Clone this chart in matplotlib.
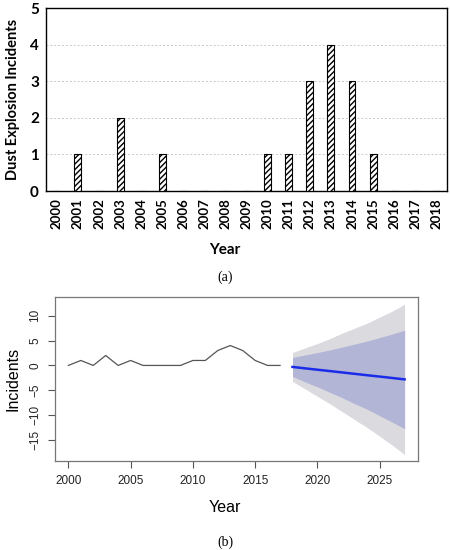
import numpy as np
import matplotlib
matplotlib.use('Agg')
import matplotlib.pyplot as plt

# (a) 연도별 분진폭발 사고 건수
years = list(range(2000, 2019))
incidents = [0, 1, 0, 2, 0, 1, 0, 0, 0, 0, 1, 1, 3, 4, 3, 1, 0, 0, 0]

# (b) 관측 시계열 + 예측
hist_years = list(range(2000, 2018))
hist_vals = [0, 1, 0, 2, 0, 1, 0, 0, 0, 0, 1, 1, 3, 4, 3, 1, 0, 0]
fc_years = list(range(2018, 2028))
fc_mean = [-0.30, -0.58, -0.86, -1.13, -1.41, -1.69, -1.97, -2.24, -2.52, -2.80]
fc_hi80 = [1.6, 2.1, 2.6, 3.1, 3.7, 4.3, 4.9, 5.6, 6.3, 7.1]
fc_lo80 = [-2.2, -3.3, -4.3, -5.4, -6.5, -7.7, -8.8, -10.1, -11.4, -12.7]
fc_hi95 = [2.6, 3.5, 4.4, 5.4, 6.5, 7.5, 8.5, 9.7, 10.9, 12.3]
fc_lo95 = [-3.2, -4.7, -6.2, -7.7, -9.3, -10.9, -12.5, -14.2, -16.0, -17.9]

fig = plt.figure(figsize=(4.5, 5.5), dpi=100)

# ---- (a) 막대그래프 ----
ax1 = fig.add_axes([0.102, 0.6527, 0.892, 0.3327])
x = np.arange(len(years))
ax1.bar(x, incidents, width=0.33, color='white', edgecolor='black',
        hatch='//////', linewidth=0.8, zorder=3)
ax1.set_xlim(-0.52, len(years) - 0.48)
ax1.set_ylim(0, 5)
ax1.set_yticks(range(6))
ax1.set_xticks(x)
ax1.set_xticklabels([str(y) for y in years], rotation=90,
                    fontweight='bold', fontsize=9.5, family='Lato')
for lab in ax1.get_yticklabels():
    lab.set_fontweight('bold')
    lab.set_family('Lato')
    lab.set_fontsize(11)
ax1.tick_params(length=0, pad=5)
ax1.grid(axis='y', linestyle=(0, (2, 2)), color='#c8c8c8', linewidth=0.7, zorder=0)
for s in ax1.spines.values():
    s.set_linewidth(1.0)
ax1.set_ylabel('Dust Explosion Incidents', fontweight='bold', fontsize=10.5,
               family='Lato', labelpad=7)
fig.text(0.5, 1 - 250 / 550, 'Year', ha='center', va='center',
         fontweight='bold', fontsize=11, family='Lato')
fig.text(0.5, 1 - 277 / 550, '(a)', ha='center', va='center',
         fontsize=10, family='Liberation Serif')

# ---- (b) 예측 그래프 ----
ax2 = fig.add_axes([0.122, 0.1618, 0.807, 0.2982])
ax2.fill_between(fc_years, fc_lo95, fc_hi95, color='#dadadf', linewidth=0)
ax2.fill_between(fc_years, fc_lo80, fc_hi80, color='#b2b5d6', linewidth=0)
ax2.plot(hist_years, hist_vals, color='#555555', linewidth=0.9)
ax2.plot(fc_years, fc_mean, color='#1a2ce8', linewidth=1.8)
ax2.set_xlim(1998.92, 2028.08)
ax2.set_ylim(-19.2, 13.75)
ax2.set_xticks([2000, 2005, 2010, 2015, 2020, 2025])
ax2.set_yticks([-15, -10, -5, 0, 5, 10])
for lab in ax2.get_xticklabels() + ax2.get_yticklabels():
    lab.set_family('Liberation Sans')
    lab.set_fontsize(8.5)
    lab.set_color('#222222')
for lab in ax2.get_yticklabels():
    lab.set_rotation(90)
    lab.set_va('center')
ax2.tick_params(length=5, width=0.8, color='#555555', pad=5)
for s in ax2.spines.values():
    s.set_color('#777777')
    s.set_linewidth(0.9)
ax2.set_ylabel('Incidents', family='Liberation Sans', fontsize=11.5, labelpad=6)
fig.text(0.5, 1 - 508 / 550, 'Year', ha='center', va='center',
         family='Liberation Sans', fontsize=11.5)
fig.text(0.5, 1 - 542 / 550, '(b)', ha='center', va='center',
         fontsize=10, family='Liberation Serif')

fig.savefig('out.png', dpi=100)
